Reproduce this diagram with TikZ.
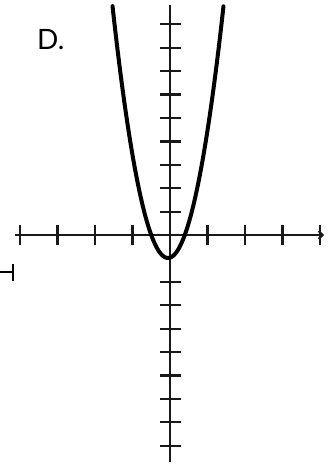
\documentclass[tikz,border=0pt]{standalone}
\usepackage{fontspec}
\setsansfont{Lato}
\usetikzlibrary{arrows.meta}
\begin{document}
\begin{tikzpicture}[x=1pt,y=-1pt,
  axisline/.style={line width=2pt,black!90},
  tickmark/.style={line width=2.2pt,black!90},
  curve/.style={line width=4pt,black,line join=round,line cap=round}]
\useasboundingbox (0,0) rectangle (333,468);
% label
\node[anchor=west,font=\sffamily\fontsize{28}{30}\selectfont,inner sep=0pt] (lbl) at (37,40) {D.};
% axes
\draw[axisline] (15,235) -- (320,235);
\draw[axisline,-{Straight Barb[length=4pt,width=8pt]}] (300,235) -- (324,235);
\draw[axisline] (170,5) -- (170,462);
% x ticks
\foreach \k in {-4,...,-1,1,2,3,4}
  \draw[tickmark] ({170+37.5*\k},225) -- ({170+37.5*\k},245);
% y ticks
\foreach \k in {-9,...,-2,1,2,...,9}
  \draw[tickmark] (160,{235-23.4*\k}) -- (181,{235-23.4*\k});
% parabola
\draw[curve] plot[domain=-1.48:1.48,samples=80,smooth] ({168+37.5*\x},{258-115*\x*\x});
% stray mark at left
\draw[line width=2pt] (0,272) -- (12,272);
\draw[line width=2.5pt] (13,264) -- (13,281);
\end{tikzpicture}
\end{document}
